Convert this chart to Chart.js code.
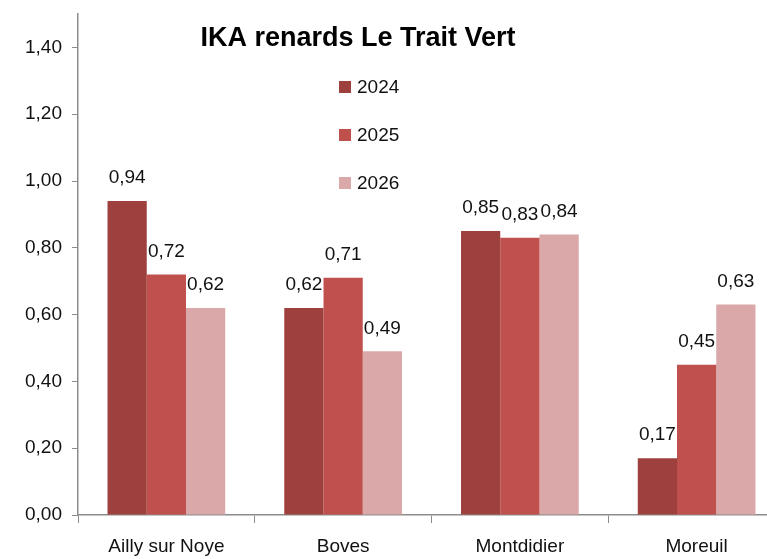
<!DOCTYPE html>
<html>
<head>
<meta charset="utf-8">
<script src="https://cdn.jsdelivr.net/npm/chart.js@4/dist/chart.umd.min.js"></script>
<style>
html,body{margin:0;padding:0;background:#fff;overflow:hidden;}
canvas{display:block;}
</style>
</head>
<body>
<canvas id="c" width="790" height="559"></canvas>
<script>
const chartTitle = 'IKA renards Le Trait Vert';
const categories = ['Ailly sur Noye', 'Boves', 'Montdidier', 'Moreuil'];
const seriesNames = ['2024', '2025', '2026'];
const values2024 = [0.94, 0.62, 0.85, 0.17];
const values2025 = [0.72, 0.71, 0.83, 0.45];
const values2026 = [0.62, 0.49, 0.84, 0.63];
const yMin = 0, yMax = 1.5, yStep = 0.2;
const seriesColors = ['#9E403E', '#C0504D', '#DAA8A8'];

const FONT = "'Liberation Sans', Arial, sans-serif";
const fmt = v => v.toFixed(2).replace('.', ',');

const titlePlugin = {
  id: 'customTitle',
  afterDraw(chart) {
    const ctx = chart.ctx;
    ctx.save();
    ctx.font = "bold 27px " + FONT;
    ctx.fillStyle = '#000';
    ctx.textAlign = 'center';
    ctx.textBaseline = 'middle';
    ctx.fillText(chartTitle, 358, 39);
    ctx.restore();
  }
};

const legendPlugin = {
  id: 'customLegend',
  afterDraw(chart) {
    const ctx = chart.ctx;
    ctx.save();
    ctx.font = "19px " + FONT;
    ctx.textBaseline = 'middle';
    ctx.textAlign = 'left';
    chart.data.datasets.forEach((ds, i) => {
      const cy = 87 + i * 48;
      ctx.fillStyle = ds.backgroundColor;
      ctx.fillRect(339, cy - 6, 12, 12);
      ctx.fillStyle = '#111';
      ctx.fillText(ds.label, 357, cy + 1);
    });
    ctx.restore();
  }
};

const labelPlugin = {
  id: 'barLabels',
  afterDatasetsDraw(chart) {
    const ctx = chart.ctx;
    ctx.save();
    ctx.font = "19px " + FONT;
    ctx.fillStyle = '#111';
    ctx.textAlign = 'center';
    ctx.textBaseline = 'middle';
    chart.data.datasets.forEach((ds, i) => {
      const meta = chart.getDatasetMeta(i);
      meta.data.forEach((bar, j) => {
        ctx.fillText(fmt(ds.data[j]), bar.x, bar.y - 23);
      });
    });
    ctx.restore();
  }
};

const allSeries = [values2024, values2025, values2026];

new Chart(document.getElementById('c'), {
  type: 'bar',
  data: {
    labels: categories,
    datasets: seriesNames.map((name, i) => ({
      label: name,
      data: allSeries[i],
      backgroundColor: seriesColors[i],
      borderWidth: 0,
      barPercentage: 1,
      categoryPercentage: 0.666
    }))
  },
  options: {
    responsive: false,
    animation: false,
    layout: { padding: { top: 14, right: 5, left: 0, bottom: 0 } },
    plugins: { legend: { display: false }, title: { display: false }, tooltip: { enabled: false } },
    scales: {
      x: {
        grid: { display: true, drawOnChartArea: false, drawTicks: true, tickLength: 8, offset: true, color: '#8c8c8c', lineWidth: 1 },
        border: { display: true, color: '#8c8c8c', width: 1.5 },
        ticks: { font: { family: FONT, size: 19 }, color: '#111', padding: 12, maxRotation: 0 },
        afterFit(scale) { scale.height = 44; scale.paddingLeft = 0; scale.paddingRight = 0; }
      },
      y: {
        min: yMin, max: yMax,
        grid: { display: true, drawOnChartArea: false, drawTicks: true, tickLength: 6, color: '#8c8c8c' },
        border: { display: true, color: '#8c8c8c', width: 1.5 },
        ticks: { stepSize: yStep, includeBounds: false, font: { family: FONT, size: 19 }, color: '#111', padding: 10,
          callback: v => fmt(v) },
        afterFit(scale) { scale.width = 78; scale.paddingTop = 0; scale.paddingBottom = 0; }
      }
    }
  },
  plugins: [labelPlugin, legendPlugin, titlePlugin]
});
</script>
</body>
</html>
